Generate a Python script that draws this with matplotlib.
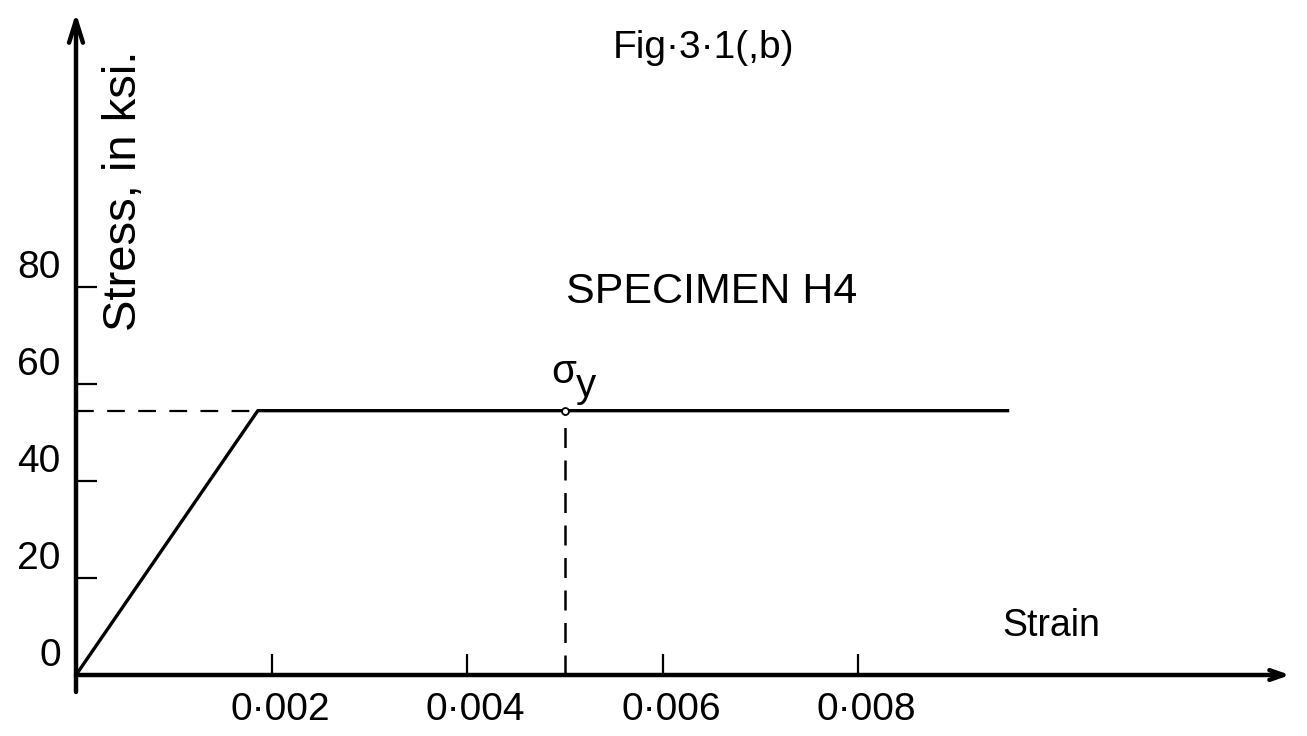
import matplotlib
matplotlib.use('Agg')
import matplotlib.pyplot as plt

# stress-strain curve, specimen H4
strain = [0.0, 0.00186, 0.00953]
stress = [0.0, 54.5, 54.5]
yield_stress = 54.5
yield_strain_mark = 0.005

x_ticks = [0.002, 0.004, 0.006, 0.008]
x_tick_labels = ['0·002', '0·004', '0·006', '0·008']
y_ticks = [0, 20, 40, 60, 80]
y_tick_labels = ['0', '20', '40', '60', '80']

plt.rcParams['font.family'] = ['Liberation Sans', 'DejaVu Sans']

W, H = 1307, 736
x0_px, y0_px = 76, 675          # origin of the drawn axes, in pixels
px_per_x = 195.5 / 0.002
px_per_y = 97 / 20.0

fig = plt.figure(figsize=(W / 100, H / 100), dpi=100)
ax = fig.add_axes([x0_px / W, (H - y0_px) / H, (W - x0_px) / W, y0_px / H])
ax.set_xlim(0, (W - x0_px) / px_per_x)
ax.set_ylim(0, y0_px / px_per_y)
for s in ax.spines.values():
    s.set_visible(False)

ax.set_xticks(x_ticks)
ax.set_yticks(y_ticks[1:])
ax.tick_params(direction='in', length=15, width=1.6, color='black',
               labelbottom=False, labelleft=False)

# axis lines with arrows
x_end = (1290 - x0_px) / px_per_x
y_end = (y0_px - 13) / px_per_y
ax.annotate('', xy=(x_end, 0), xytext=(0, 0), annotation_clip=False,
            arrowprops=dict(arrowstyle='->,head_length=1.0,head_width=0.35', lw=3.2, color='black',
                            shrinkA=0, shrinkB=0))
ax.annotate('', xy=(0, y_end), xytext=(0, -3.5), annotation_clip=False,
            arrowprops=dict(arrowstyle='->,head_length=1.6,head_width=0.5', lw=3.2, color='black',
                            shrinkA=0, shrinkB=0))

for t, lbl in zip(x_ticks, x_tick_labels):
    ax.annotate(lbl, (t, 0), xytext=(6, -12), textcoords='offset points',
                ha='center', va='top', fontsize=28, annotation_clip=False)
for t, lbl in zip(y_ticks, y_tick_labels):
    ax.annotate(lbl, (0, t), xytext=(-11, 1), textcoords='offset points',
                ha='right', va='bottom', fontsize=28, annotation_clip=False)

# curve
ax.plot(strain, stress, color='black', lw=2.4, clip_on=False)
ax.plot([0, strain[1]], [yield_stress, yield_stress], color='black', lw=1.6,
        dashes=(8, 6), clip_on=False)
ax.plot([yield_strain_mark, yield_strain_mark], [0, yield_stress], color='black', lw=1.8,
        dashes=(8, 5), clip_on=False)
ax.plot([yield_strain_mark], [yield_stress], 'o', ms=5, mfc='white', mec='black', mew=1.3,
        clip_on=False)
# sigma_y label (sigma with a large, lowered y)
ax.annotate('σ', (yield_strain_mark, yield_stress), xytext=(-9.5, 20),
            textcoords='offset points', ha='left', va='baseline', fontsize=29)
ax.annotate('y', (yield_strain_mark, yield_stress), xytext=(8, 10),
            textcoords='offset points', ha='left', va='baseline', fontsize=29)

ax.annotate('Strain', (0.00998, 0), xytext=(0, 22), textcoords='offset points',
            ha='center', va='bottom', fontsize=27)
fig.text(712 / W, 1 - 292 / H, 'SPECIMEN H4', ha='center', va='center', fontsize=31)
fig.text(704 / W, 1 - 48 / H, 'Fig·3·1(,b)', ha='center', va='center', fontsize=28)
fig.text(124 / W, 1 - 191 / H, 'Stress, in ksi.', ha='center', va='center',
         rotation=90, fontsize=34)

fig.savefig('out.png', dpi=100)
